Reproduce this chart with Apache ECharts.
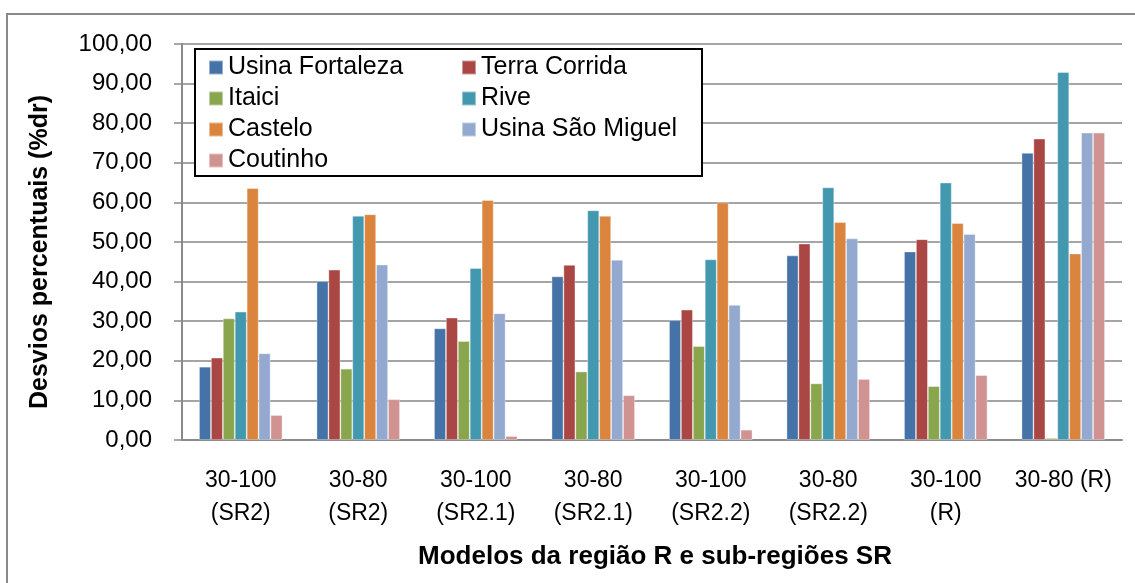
<!DOCTYPE html>
<html>
<head>
<meta charset="utf-8">
<script src="https://cdn.jsdelivr.net/npm/echarts@6/dist/echarts.min.js"></script>
<style>
  html, body { margin: 0; padding: 0; background: #fff; }
  #chart { width: 1135px; height: 583px; }
</style>
</head>
<body>
<div id="chart"></div>
<script>
// Model runs (x categories)
const categories = [
  '30-100\n(SR2)', '30-80\n(SR2)', '30-100\n(SR2.1)', '30-80\n(SR2.1)',
  '30-100\n(SR2.2)', '30-80\n(SR2.2)', '30-100\n(R)', '30-80 (R)'
];

// Percentage deviations (%dr) per station
const usinaFortaleza = [18.5, 40.1, 28.2, 41.3, 30.3, 46.6, 47.6, 72.5];
const terraCorrida   = [20.8, 43.0, 30.9, 44.2, 32.9, 49.6, 50.7, 76.1];
const itaici         = [30.7, 18.0, 25.0, 17.3, 23.7, 14.3, 13.6, 0.5];
const rive           = [32.4, 56.6, 43.4, 58.0, 45.6, 63.8, 65.0, 92.9];
const castelo        = [63.6, 57.0, 60.6, 56.6, 60.0, 55.0, 54.8, 47.1];
const usinaSaoMiguel = [21.9, 44.3, 32.0, 45.5, 34.1, 50.9, 52.0, 77.6];
const coutinho       = [6.3, 10.3, 1.0, 11.3, 2.6, 15.4, 16.4, 77.6];

// Y axis ticks
const yTicks = [0, 10, 20, 30, 40, 50, 60, 70, 80, 90, 100];

const seriesDefs = [
  { name: 'Usina Fortaleza', data: usinaFortaleza, color: '#4572A7' },
  { name: 'Terra Corrida', data: terraCorrida, color: '#AA4643' },
  { name: 'Itaici', data: itaici, color: '#89A54E' },
  { name: 'Rive', data: rive, color: '#4198AF' },
  { name: 'Castelo', data: castelo, color: '#DB843D' },
  { name: 'Usina São Miguel', data: usinaSaoMiguel, color: '#93A9CF' },
  { name: 'Coutinho', data: coutinho, color: '#D19392' }
];

const FONT = '"Liberation Sans", Arial, sans-serif';
const chart = echarts.init(document.getElementById('chart'), null, { renderer: 'canvas' });

const legendText = { fontFamily: FONT, fontSize: 25, color: '#000', lineHeight: 25 };

chart.setOption({
  animation: false,
  backgroundColor: '#fff',
  grid: { left: 182, top: 44, width: 940, height: 396, containLabel: false },
  legend: [
    {
      orient: 'vertical', left: 208, top: 55, padding: 0, itemGap: 6,
      itemWidth: 14, itemHeight: 14, icon: 'rect', z: 6,
      textStyle: legendText,
      data: ['Usina Fortaleza', 'Itaici', 'Castelo', 'Coutinho']
    },
    {
      orient: 'vertical', left: 461, top: 55, padding: 0, itemGap: 6,
      itemWidth: 14, itemHeight: 14, icon: 'rect', z: 6,
      textStyle: legendText,
      data: ['Terra Corrida', 'Rive', 'Usina São Miguel']
    }
  ],
  xAxis: {
    type: 'category',
    data: categories,
    axisLine: { lineStyle: { color: '#8a8a8a', width: 2 } },
    axisTick: { show: false },
    axisLabel: {
      interval: 0, margin: 24, fontFamily: FONT, fontSize: 23,
      color: '#000', lineHeight: 33
    }
  },
  yAxis: {
    type: 'value',
    min: yTicks[0], max: yTicks[yTicks.length - 1], interval: yTicks[1] - yTicks[0],
    axisLine: { show: true, lineStyle: { color: '#8a8a8a', width: 2 } },
    axisTick: { show: true, length: 8, lineStyle: { color: '#8a8a8a', width: 1.5 } },
    splitLine: { lineStyle: { color: '#878787', width: 1.6 } },
    axisLabel: {
      margin: 30, fontFamily: FONT, fontSize: 24, color: '#000',
      formatter: v => v.toFixed(2).replace('.', ',')
    }
  },
  series: seriesDefs.map(s => ({
    name: s.name,
    type: 'bar',
    data: s.data,
    barGap: '0%',
    barCategoryGap: '29%',
    itemStyle: { color: s.color, borderColor: 'rgba(255,255,255,0.45)', borderWidth: 0.8 }
  })),
  graphic: [
    // outer chart frame
    {
      type: 'rect', z: 0, silent: true,
      shape: { x: 7, y: 14, width: 1200, height: 700 },
      style: { fill: 'none', stroke: '#8a8a8a', lineWidth: 2 }
    },
    // legend frame
    {
      type: 'rect', z: 5, silent: true,
      shape: { x: 195, y: 49, width: 507, height: 127 },
      style: { fill: '#fff', stroke: '#000', lineWidth: 2 }
    },
    // y axis title
    {
      type: 'text', z: 5, silent: true, x: 40, y: 252, rotation: Math.PI / 2,
      style: {
        text: 'Desvios percentuais (%dr)', x: 0, y: 0,
        font: 'bold 25px ' + FONT, fill: '#000',
        textAlign: 'center', textVerticalAlign: 'middle'
      }
    },
    // x axis title
    {
      type: 'text', z: 5, silent: true, x: 655, y: 557,
      style: {
        text: 'Modelos da região R e sub-regiões SR', x: 0, y: 0,
        font: 'bold 26px ' + FONT, fill: '#000',
        textAlign: 'center', textVerticalAlign: 'middle'
      }
    }
  ]
});
</script>
</body>
</html>
